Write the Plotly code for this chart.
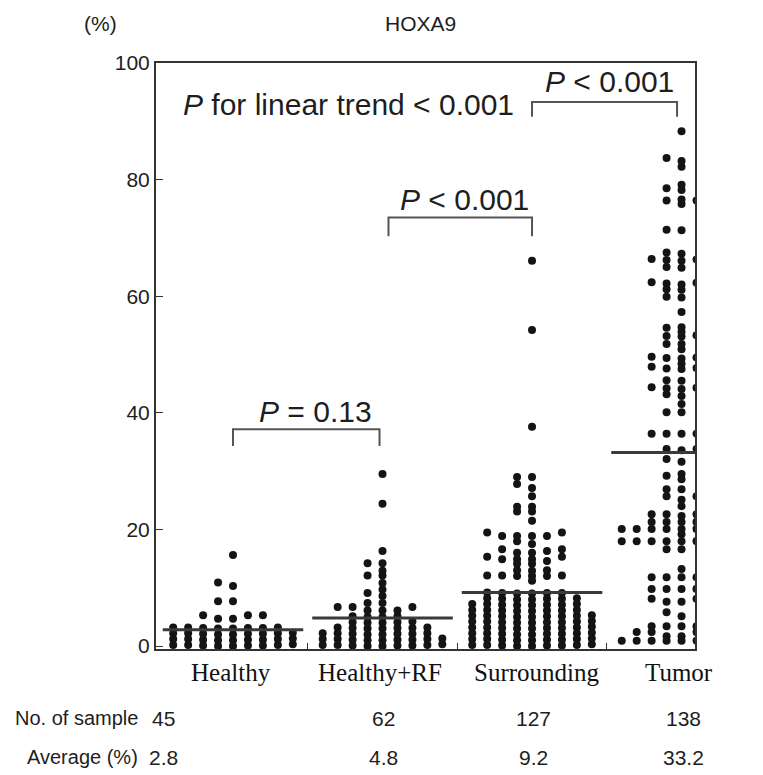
import plotly.graph_objects as go

# ---------------- data ----------------
categories = ["Healthy", "Healthy+RF", "Surrounding", "Tumor"]
n_samples = ["45", "62", "127", "138"]
averages = [2.8, 4.8, 9.2, 33.2]
average_labels = ["2.8", "4.8", "9.2", "33.2"]
y_ticks = [0, 20, 40, 60, 80, 100]

healthy = [
    0.0, 0.0, 0.1, 0.1, 0.1, 0.2, 0.2, 0.2, 0.3,
    1.0, 1.0, 1.1, 1.1, 1.1, 1.2, 1.2, 1.2, 1.3,
    2.0, 2.0, 2.1, 2.1, 2.1, 2.2, 2.2, 2.2, 2.3,
    3.0, 3.0, 3.1, 3.1, 3.1, 3.2, 3.2, 3.2,
    4.7, 4.7, 5.3, 5.3, 5.3, 7.7, 7.7, 10.3, 10.9, 15.6,
]

healthy_rf = [
    0.0, 0.0, 0.1, 0.1, 0.1, 0.2, 0.2, 0.2, 0.3,
    1.0, 1.0, 1.1, 1.1, 1.1, 1.2, 1.2, 1.2, 1.3,
    2.0, 2.0, 2.1, 2.1, 2.1, 2.2, 2.2, 2.2,
    3.0, 3.0, 3.1, 3.1, 3.1, 3.2, 3.2,
    4.0, 4.0, 4.1, 4.1, 4.2,
    5.0, 5.0, 5.1, 5.1,
    6.1, 6.1, 6.1, 6.7, 6.7, 6.7, 7.4, 7.4, 8.6, 9.1, 9.7, 10.8,
    12.1, 12.1, 12.9, 14.2, 14.2, 16.3, 24.4, 29.5,
]

surrounding = [
    0.0, 0.0, 0.1, 0.1, 0.1, 0.2, 0.2, 0.2, 0.3,
    1.0, 1.0, 1.1, 1.1, 1.1, 1.2, 1.2, 1.2, 1.3,
    2.0, 2.0, 2.1, 2.1, 2.1, 2.2, 2.2, 2.2, 2.3,
    3.0, 3.0, 3.1, 3.1, 3.1, 3.2, 3.2, 3.2, 3.3,
    4.0, 4.0, 4.1, 4.1, 4.1, 4.2, 4.2, 4.2, 4.3,
    5.0, 5.0, 5.1, 5.1, 5.1, 5.2, 5.2, 5.2, 5.3,
    6.0, 6.0, 6.1, 6.1, 6.1, 6.2, 6.2, 6.2,
    7.0, 7.0, 7.1, 7.1, 7.1, 7.2, 7.2, 7.2,
    8.0, 8.0, 8.1, 8.1, 8.1, 8.2, 8.2,
    9.0, 9.0, 9.1, 9.1, 9.1, 9.2,
    11.2, 12.0, 12.0, 12.0, 12.1, 12.1, 12.1, 12.9, 13.0, 13.0,
    14.1, 14.1, 14.6, 14.9, 14.9, 14.9, 15.3, 15.3, 16.0, 16.0,
    16.3, 16.6, 16.6, 17.5, 18.0, 18.9, 18.9, 18.9, 18.9, 19.5, 19.5,
    21.5, 23.1, 23.1, 23.9, 23.9, 25.7, 27.1, 27.8, 29.0, 29.0,
    37.6, 54.2, 66.1,
]

tumor = [
    88.3,
    82.2, 83.2, 83.7,
    78.2, 78.5, 79.1,
    75.8, 76.4, 76.4, 76.6,
    71.3, 71.4,
    66.1, 66.2, 66.3, 66.4, 67.3, 67.5,
    64.9, 65.0,
    62.0, 62.2, 62.3, 62.4,
    61.1, 61.2,
    59.8, 59.9,
    57.3,
    54.6, 54.7,
    53.1, 53.2, 53.3, 53.9,
    51.8, 51.8,
    50.9,
    49.3, 49.4, 49.5, 49.6,
    47.5, 47.6, 47.7, 47.9, 48.4,
    45.5, 45.6, 44.1, 44.2, 44.3, 44.4, 43.2, 42.9, 41.5, 40.1, 40.1,
    36.4, 36.4, 36.4, 36.4,
    33.6, 33.8, 33.8, 32.1, 31.6,
    28.6, 29.2, 29.5,
    26.9, 26.9, 25.1, 25.7, 25.7,
    24.0,
    22.6, 22.6, 22.6, 22.6, 22.3,
    21.3, 21.3, 21.3, 21.3,
    20.1, 20.1, 20.1, 20.1, 20.1, 20.1, 20.1, 20.1,
    19.2,
    18.0, 18.0, 18.0, 18.0, 18.0, 18.0, 18.0, 18.0,
    16.6, 16.6,
    13.2,
    11.8, 11.8, 11.8, 11.8,
    9.8, 9.8, 9.8, 9.8,
    7.6, 7.6, 8.1, 8.1,
    5.1, 5.8,
    3.4, 3.4, 3.4, 3.4,
    2.4, 2.4, 2.4, 2.4,
    1.7, 1.7,
    0.9, 0.9, 0.9, 0.9, 0.9, 0.9, 0.9, 0.9,
]

groups = [healthy, healthy_rf, surrounding, tumor]
p_labels = ["<i>P</i> = 0.13", "<i>P</i> < 0.001", "<i>P</i> < 0.001"]
trend_label = "<i>P</i> for linear trend < 0.001"

# ---------------- layout helpers ----------------
OFF = 8                                  # default page margin of the browser
W, H = 763 - OFF, 775 - OFF
# plot area in page pixels (reference picture coordinates)
PL, PR, PT, PB = 156, 695, 63, 649
L, R, T, B = PL - OFF, PR - OFF, PT - OFF, PB - OFF
X0, X1 = 0.485, 4.09                     # x range (group centres at 1..4)
Y0, Y1 = -0.5, 100
COL_W = 0.1                              # column spacing for the dot swarm
THR = 0.75                               # vertical separation inside a column


def px(x):
    return (x - PL) / (PR - PL)


def py(y):
    return (PB - y) / (PB - PT)


def swarm_offsets(values, thr=THR):
    order = sorted(range(len(values)), key=lambda i: values[i])
    seq = [0]
    for k in range(1, 40):
        seq += [-k, k]
    cols = {}
    offs = [0] * len(values)
    for i in order:
        v = values[i]
        for k in seq:
            if all(abs(v - u) >= thr for u in cols.get(k, [])):
                cols.setdefault(k, []).append(v)
                offs[i] = k
                break
    return offs


fig = go.Figure()
FONT = "Liberation Sans, Arial, sans-serif"
SERIF = "Liberation Serif, Times New Roman, serif"
TXT = "#1e1e1e"
AXC = "#333333"

for gi, vals in enumerate(groups):
    centre = gi + 1
    offs = swarm_offsets(vals)
    fig.add_trace(go.Scatter(
        x=[centre + k * COL_W for k in offs], y=vals,
        mode="markers", cliponaxis=True, showlegend=False,
        marker=dict(size=8, color="#141414", line=dict(width=0)),
        hoverinfo="y",
    ))

for gi, avg in enumerate(averages):
    centre = gi + 1
    fig.add_trace(go.Scatter(
        x=[centre - 0.47, centre + 0.47], y=[avg, avg],
        mode="lines", line=dict(color="#3a3a3a", width=3),
        showlegend=False, hoverinfo="skip", cliponaxis=True,
    ))

# significance brackets
brackets = [(1.0, 1.98, 37.2, 34.3), (2.04, 3.0, 73.5, 70.3), (3.0, 3.97, 93.3, 90.8)]
for xa, xb, ytop, ybot in brackets:
    fig.add_shape(type="path",
                  path=f"M {xa},{ybot} L {xa},{ytop} L {xb},{ytop} L {xb},{ybot}",
                  xref="x", yref="y", line=dict(color="#555555", width=2))

ann = []
p_pos = [(315, 411), (464, 199), (609, 81)]
for lab, (x, y) in zip(p_labels, p_pos):
    ann.append(dict(text=lab, x=px(x), y=py(y), xanchor="center", yanchor="middle",
                    font=dict(size=30, family=FONT, color=TXT)))
ann.append(dict(text=trend_label, x=px(516), y=py(104), xanchor="right", yanchor="middle",
                font=dict(size=30, family=FONT, color=TXT)))
ann.append(dict(text="(%)", x=px(100), y=py(23), xanchor="center", yanchor="middle",
                font=dict(size=21, family=FONT, color=TXT)))
ann.append(dict(text="HOXA9", x=px(420), y=py(23), xanchor="center", yanchor="middle",
                font=dict(size=21, family=FONT, color=TXT)))

cat_x = [231, 380, 537, 679]
for lab, x in zip(categories, cat_x):
    ann.append(dict(text=lab, x=px(x), y=py(672), xanchor="center", yanchor="middle",
                    font=dict(size=25, family=SERIF, color="#111")))

ann.append(dict(text="No. of sample", x=px(140), y=py(718), xanchor="right", yanchor="middle",
                font=dict(size=20, family=FONT, color=TXT)))
ann.append(dict(text="Average (%)", x=px(140), y=py(757), xanchor="right", yanchor="middle",
                font=dict(size=20, family=FONT, color=TXT)))
num_x = [163, 383, 533, 683]
for lab, x in zip(n_samples, num_x):
    ann.append(dict(text=lab, x=px(x), y=py(718), xanchor="center", yanchor="middle",
                    font=dict(size=21, family=FONT, color=TXT)))
for lab, x in zip(average_labels, num_x):
    ann.append(dict(text=lab, x=px(x), y=py(757), xanchor="center", yanchor="middle",
                    font=dict(size=21, family=FONT, color=TXT)))

for a in ann:
    a.update(xref="paper", yref="paper", showarrow=False)

fig.update_layout(
    width=W, height=H, autosize=False,
    margin=dict(l=L, r=W - R, t=T, b=H - B, pad=0),
    paper_bgcolor="white", plot_bgcolor="white",
    annotations=ann, showlegend=False,
    xaxis=dict(range=[X0, X1], showgrid=False, zeroline=False,
               showline=True, mirror=True, linecolor=AXC, linewidth=2,
               tickvals=[1.5, 2.5, 3.5], ticks="inside", ticklen=6, tickcolor=AXC,
               showticklabels=False),
    yaxis=dict(range=[Y0, Y1], showgrid=False, zeroline=False,
               showline=True, mirror=True, linecolor=AXC, linewidth=2,
               tickvals=y_ticks, ticks="inside", ticklen=7, tickcolor=AXC,
               tickfont=dict(size=21, family=FONT, color=TXT)),
)

fig.write_html("out.html")
